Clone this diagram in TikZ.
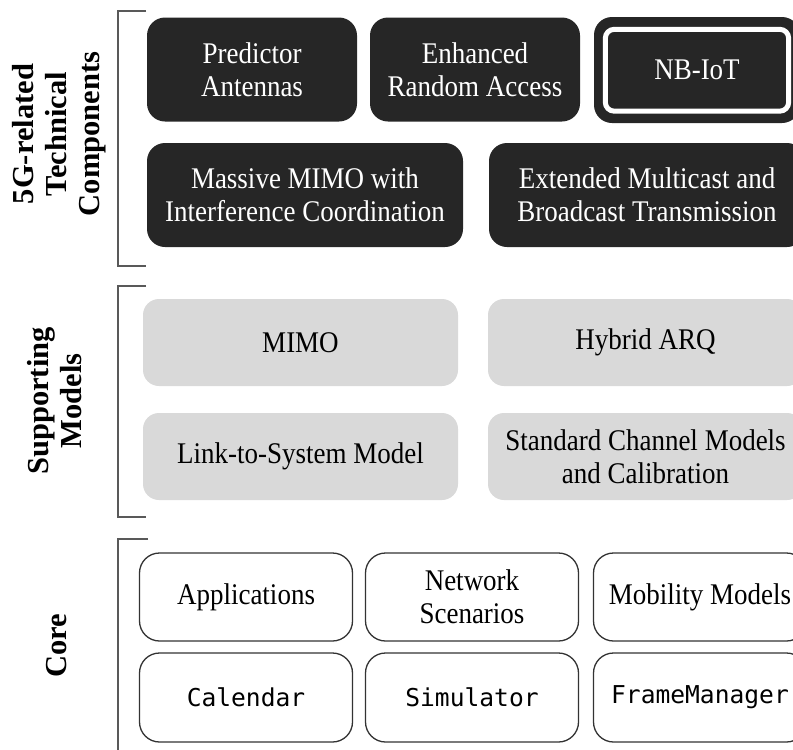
\documentclass[tikz,border=0pt]{standalone}
\usepackage{fontspec}
\setmainfont{Liberation Serif}
\setmonofont{DejaVu Sans Mono}
\newfontfamily\boxfont[FakeStretch=0.9]{Liberation Serif}
\definecolor{boxdark}{HTML}{262626}
\definecolor{boxgray}{HTML}{D9D9D9}
\definecolor{coreline}{HTML}{333333}
\definecolor{brack}{HTML}{595959}
\tikzset{
  base/.style={inner sep=0pt, align=center, font=\boxfont\fontsize{30}{33}\selectfont},
  darkbox/.style={base, fill=boxdark, text=white, rounded corners=18pt, minimum height=104pt},
  graybox/.style={base, fill=boxgray, text=black, rounded corners=16pt, minimum width=315pt, minimum height=87pt},
  corebox/.style={base, fill=white, draw=coreline, line width=1.3pt, rounded corners=20pt, minimum width=213pt},
  monotext/.style={font=\fontsize{24.6}{28}\ttfamily},
  bracket/.style={draw=brack, line width=1.5pt},
  grouplabel/.style={inner sep=0pt, align=center, rotate=90, font=\fontsize{30.5}{33}\selectfont\bfseries}
}
\begin{document}
\begin{tikzpicture}[x=1pt,y=-1pt]
\useasboundingbox (0,0) rectangle (793,750);
\clip (0,0) rectangle (793,750);

% 5G-related technical components
\node[darkbox, minimum width=210pt] (pa) at (252,69.5) {Predictor\\Antennas};
\node[darkbox, minimum width=210pt] (era) at (475,69.5) {Enhanced\\Random Access};
\node[darkbox, minimum width=206pt, minimum height=106pt] (nb) at (697,70) {NB-IoT};
\draw[white, line width=5pt, rounded corners=9pt]
  ([xshift=11.5pt,yshift=-12.5pt]nb.north west) rectangle ([xshift=-11.5pt,yshift=12pt]nb.south east);
\node[darkbox, minimum width=316pt] (mm) at (305,195) {Massive MIMO with\\Interference Coordination};
\node[darkbox, minimum width=316pt] (emb) at (647,195) {Extended Multicast and\\Broadcast Transmission};

% Supporting models
\node[graybox] (mimo) at (300.5,342.5) {MIMO};
\node[graybox] (harq) at (645.5,342.5) {Hybrid ARQ};
\node[graybox] (l2s) at (300.5,456.5) {Link-to-System Model};
\node[graybox] (scm) at (645.5,456.5) {Standard Channel Models\\and Calibration};

% Core
\node[corebox, minimum height=88pt] (app) at (246,597) {Applications};
\node[corebox, minimum height=88pt] (ns) at (472,597) {Network\\Scenarios};
\node[corebox, minimum height=88pt] (mob) at (700,597) {Mobility Models};
\node[corebox, minimum height=89pt, monotext] (cal) at (246,697.5) {Calendar};
\node[corebox, minimum height=89pt, monotext] (sim) at (472,697.5) {Simulator};
\node[corebox, minimum height=89pt, monotext] (fm) at (700,697.5) {FrameManager};

% Brackets
\coordinate (b1a) at (146,11);
\coordinate (b1b) at (118,11);
\coordinate (b1c) at (118,266);
\coordinate (b1d) at (146,266);
\draw[bracket] (b1a) -- (b1b) -- (b1c) -- (b1d);
\coordinate (b2a) at (146,286);
\coordinate (b2b) at (118,286);
\coordinate (b2c) at (118,517);
\coordinate (b2d) at (146,517);
\draw[bracket] (b2a) -- (b2b) -- (b2c) -- (b2d);
\coordinate (b3a) at (148,539);
\coordinate (b3b) at (118,539);
\coordinate (b3c) at (118,760);
\draw[bracket] (b3a) -- (b3b) -- (b3c);

% Group labels
\node[grouplabel] (l1) at (59,134) {5G-related\\Technical\\Components};
\node[grouplabel] (l2) at (55,401) {Supporting\\Models};
\node[grouplabel] (l3) at (57,646) {Core};
\end{tikzpicture}
\end{document}
